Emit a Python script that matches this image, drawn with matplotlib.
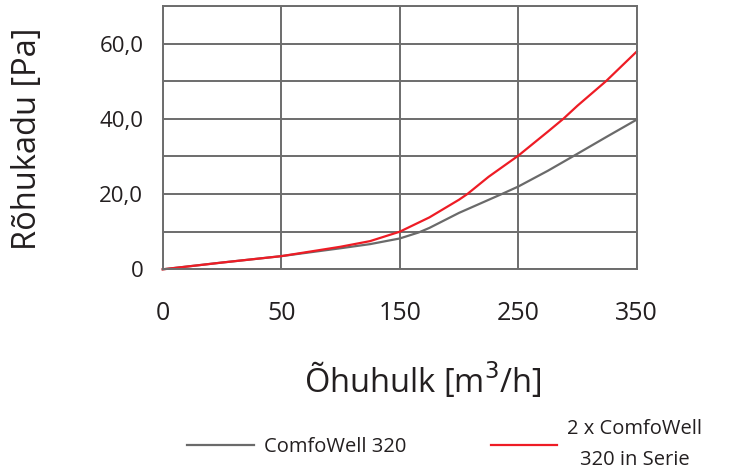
import numpy as np
import matplotlib
matplotlib.use("Agg")
import matplotlib.pyplot as plt

plt.rcParams["font.family"] = ["Open Sans", "DejaVu Sans"]

# x axis: ticks evenly spaced but labelled 0, 50, 150, 250, 350
tick_vals = [0, 50, 150, 250, 350]
tick_labels = ["0", "50", "150", "250", "350"]

# ComfoWell 320
flow_single = [0, 25, 50, 100, 125, 150, 166, 175, 200, 236, 250, 275, 296, 325, 350]
pa_single = [0, 1.8, 3.5, 5.6, 6.7, 8.2, 9.8, 11.0, 15.0, 20.0, 22.0, 26.2, 30.0, 35.3, 39.8]

# 2 x ComfoWell 320 in Serie
flow_serie = [0, 25, 50, 100, 125, 150, 175, 200, 207, 225, 250, 275, 288, 300, 324, 350]
pa_serie = [0, 1.8, 3.5, 6.0, 7.5, 10.0, 13.8, 18.5, 20.0, 24.6, 30.2, 36.6, 40.0, 43.5, 50.0, 57.9]

y_ticks = [0, 20, 40, 60]
y_labels = ["0", "20,0", "40,0", "60,0"]

tick_pos = np.arange(len(tick_vals))


def to_pos(v):
    return np.interp(v, tick_vals, tick_pos)


txt = "#231f20"
grid_col = "#6d6d6d"

fig = plt.figure(figsize=(7.3, 4.72), dpi=100)
ax = fig.add_axes([0.2229, 0.4294, 0.6493, 0.5578])

ax.set_xlim(0, 4)
ax.set_ylim(0, 70)
ax.set_xticks(tick_pos)
ax.set_xticklabels(tick_labels)
ax.set_yticks(y_ticks)
ax.set_yticklabels(y_labels)
ax.set_yticks(np.arange(10, 71, 20), minor=True)
ax.grid(which="both", color=grid_col, linewidth=1.4)
ax.tick_params(which="both", length=0, colors=txt)
ax.tick_params(axis="x", labelsize=18, pad=23)
ax.tick_params(axis="y", labelsize=16, pad=14)
for s in ax.spines.values():
    s.set_color(grid_col)
    s.set_linewidth(1.4)

ax.plot(to_pos(flow_single), pa_single, color="#6a6a6a", lw=1.6,
        label="ComfoWell 320", clip_on=False)
ax.plot(to_pos(flow_serie), pa_serie, color="#ee1c25", lw=1.6,
        label="2 x ComfoWell\n320 in Serie", clip_on=False)

ax.set_xlabel("Õhuhulk [m$^3$/h]", fontsize=23.5, color=txt)
ax.xaxis.set_label_coords(0.548, -0.42)
ax.xaxis.label.set_va("center")
ax.set_ylabel("Rõhukadu [Pa]", fontsize=23.5, color=txt)
ax.yaxis.set_label_coords(-0.286, 0.495)
ax.yaxis.label.set_va("center")

leg = fig.legend(loc="center left", bbox_to_anchor=(0.232, 0.058), ncol=2,
                 frameon=False, fontsize=14.5, handlelength=3.3,
                 handletextpad=0.5, columnspacing=4.2)
for t in leg.get_texts():
    t.set_multialignment("center")
    t.set_linespacing(1.7)
    t.set_color(txt)

fig.savefig("out.png", dpi=100)
